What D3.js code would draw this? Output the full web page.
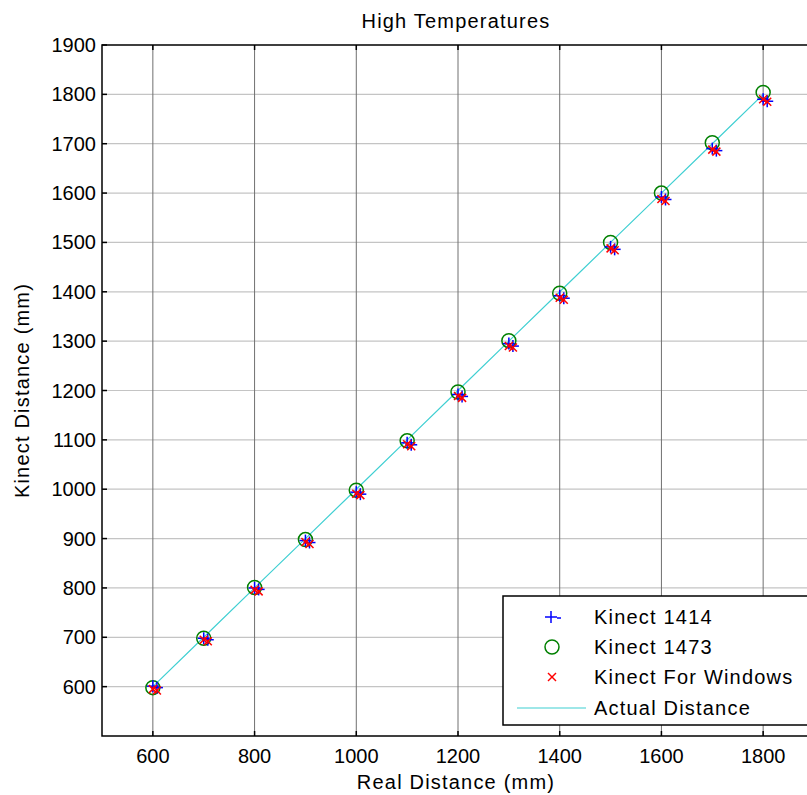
<!DOCTYPE html>
<html>
<head>
<meta charset="utf-8">
<script src="https://cdn.jsdelivr.net/npm/d3@7"></script>
<style>
  body { margin: 0; background: #fff; }
  text { font-family: Arial, "Liberation Sans", sans-serif; }
  .word { letter-spacing: 1.2px; }
</style>
</head>
<body>
<div id="vis"></div>
<script>
// Real distances (mm)
const distances = [600, 700, 800, 900, 1000, 1100, 1200, 1300, 1400, 1500, 1600, 1700, 1800];
// Kinect 1414 readings (two per distance)
const k1414a = [601, 698, 800, 896, 994, 1094, 1192, 1295, 1392, 1491, 1592, 1690, 1790];
const k1414b = [598, 695, 797, 892, 990, 1090, 1188, 1290, 1387, 1486, 1587, 1686, 1786];
// Kinect 1473 readings
const k1473 = [598, 698, 801, 898, 998, 1098, 1197, 1301, 1397, 1500, 1600, 1702, 1804];
// Kinect For Windows readings (two per distance)
const kfwA = [595, 695, 796, 893, 991, 1091, 1189, 1290, 1388, 1488, 1588, 1688, 1790];
const kfwB = [592, 692, 793, 889, 988, 1087, 1185, 1287, 1384, 1484, 1584, 1684, 1785];
// second reading sits a few mm to the right
const jitter = [0, 8];

const xTicks = [600, 800, 1000, 1200, 1400, 1600, 1800];
const yTicks = [600, 700, 800, 900, 1000, 1100, 1200, 1300, 1400, 1500, 1600, 1700, 1800, 1900];
const legendLabels = ["Kinect 1414", "Kinect 1473", "Kinect For Windows", "Actual Distance"];

const W = 807, H = 795;
const svg = d3.select("#vis").append("svg")
  .attr("width", W)
  .attr("height", H);

const pL = 102, pR = 814, pT = 45, pB = 736;

const x = d3.scaleLinear().domain([500, 1900]).range([pL, pR]);
const y = d3.scaleLinear().domain([500, 1900]).range([pB, pT]);

// grid
svg.append("g").selectAll("line")
  .data(yTicks.filter(d => d < 1900))
  .enter().append("line")
  .attr("x1", pL).attr("x2", pR)
  .attr("y1", d => y(d)).attr("y2", d => y(d))
  .attr("stroke", "#c4c4c4").attr("stroke-width", 1.2);

svg.append("g").selectAll("line")
  .data(xTicks)
  .enter().append("line")
  .attr("x1", d => x(d)).attr("x2", d => x(d))
  .attr("y1", pT).attr("y2", pB)
  .attr("stroke", "#707070").attr("stroke-width", 1);

// actual distance line
svg.append("path")
  .datum(distances)
  .attr("fill", "none")
  .attr("stroke", "#3fcfd2")
  .attr("stroke-width", 1.2)
  .attr("d", d3.line().x(d => x(d)).y(d => y(d)));

// Kinect 1473 circles
svg.append("g").selectAll("circle")
  .data(distances)
  .enter().append("circle")
  .attr("cx", d => x(d))
  .attr("cy", (d, i) => y(k1473[i]))
  .attr("r", 7)
  .attr("fill", "none")
  .attr("stroke", "#008000")
  .attr("stroke-width", 1.5);

function plus(g, cx, cy, s, color) {
  g.append("line").attr("x1", cx - s).attr("x2", cx + s).attr("y1", cy).attr("y2", cy)
    .attr("stroke", color).attr("stroke-width", 1.5);
  g.append("line").attr("x1", cx).attr("x2", cx).attr("y1", cy - s).attr("y2", cy + s)
    .attr("stroke", color).attr("stroke-width", 1.5);
}
function cross(g, cx, cy, s, color) {
  g.append("line").attr("x1", cx - s).attr("x2", cx + s).attr("y1", cy - s).attr("y2", cy + s)
    .attr("stroke", color).attr("stroke-width", 1.5);
  g.append("line").attr("x1", cx - s).attr("x2", cx + s).attr("y1", cy + s).attr("y2", cy - s)
    .attr("stroke", color).attr("stroke-width", 1.5);
}

const marks = svg.append("g");
distances.forEach((d, i) => {
  plus(marks, x(d + jitter[0]), y(k1414a[i]), 6, "#0000ff");
  plus(marks, x(d + jitter[1]), y(k1414b[i]), 6, "#0000ff");
  cross(marks, x(d + jitter[0]), y(kfwA[i]), 4, "#ff0000");
  cross(marks, x(d + jitter[1]), y(kfwB[i]), 4, "#ff0000");
});

// axes box
svg.append("rect")
  .attr("x", pL).attr("y", pT)
  .attr("width", pR - pL).attr("height", pB - pT)
  .attr("fill", "none").attr("stroke", "#000").attr("stroke-width", 1.5);

// ticks inside
svg.append("g").selectAll("line")
  .data(yTicks)
  .enter().append("line")
  .attr("x1", pL).attr("x2", pL + 5)
  .attr("y1", d => y(d)).attr("y2", d => y(d))
  .attr("stroke", "#000").attr("stroke-width", 1.5);
svg.append("g").selectAll("line")
  .data(xTicks)
  .enter().append("line")
  .attr("x1", d => x(d)).attr("x2", d => x(d))
  .attr("y1", pB).attr("y2", pB - 5)
  .attr("stroke", "#000").attr("stroke-width", 1.5);
svg.append("g").selectAll("line")
  .data(xTicks)
  .enter().append("line")
  .attr("x1", d => x(d)).attr("x2", d => x(d))
  .attr("y1", pT).attr("y2", pT + 5)
  .attr("stroke", "#000").attr("stroke-width", 1.5);

// tick labels
svg.append("g").selectAll("text")
  .data(yTicks)
  .enter().append("text")
  .attr("x", pL - 6)
  .attr("y", d => y(d))
  .attr("dy", "0.35em")
  .attr("text-anchor", "end")
  .attr("font-size", 20)
  .text(d => d);
svg.append("g").selectAll("text")
  .data(xTicks)
  .enter().append("text")
  .attr("x", d => x(d))
  .attr("y", 763)
  .attr("text-anchor", "middle")
  .attr("font-size", 20)
  .text(d => d);

// titles
svg.append("text")
  .attr("class", "word")
  .attr("x", 456).attr("y", 28)
  .attr("text-anchor", "middle")
  .attr("font-size", 20)
  .text("High Temperatures");
svg.append("text")
  .attr("class", "word")
  .attr("x", 456).attr("y", 789)
  .attr("text-anchor", "middle")
  .attr("font-size", 20)
  .text("Real Distance (mm)");
svg.append("text")
  .attr("class", "word")
  .attr("transform", "translate(29," + ((pT + pB) / 2) + ") rotate(-90)")
  .attr("text-anchor", "middle")
  .attr("font-size", 20)
  .text("Kinect Distance (mm)");

// legend
const lg = svg.append("g");
lg.append("rect")
  .attr("x", 503).attr("y", 596)
  .attr("width", 320).attr("height", 129)
  .attr("fill", "#fff").attr("stroke", "#000").attr("stroke-width", 1.5);
const rowY = [617, 647, 677, 708];
plus(lg, 551, rowY[0], 6, "#0000ff");
lg.append("line").attr("x1", 557).attr("x2", 561).attr("y1", rowY[0] + 1).attr("y2", rowY[0] + 1)
  .attr("stroke", "#0000ff").attr("stroke-width", 1.5);
lg.append("circle").attr("cx", 552).attr("cy", rowY[1]).attr("r", 7)
  .attr("fill", "none").attr("stroke", "#008000").attr("stroke-width", 1.5);
cross(lg, 552, rowY[2], 4, "#ff0000");
lg.append("line").attr("x1", 517).attr("x2", 586).attr("y1", rowY[3]).attr("y2", rowY[3])
  .attr("stroke", "#3fcfd2").attr("stroke-width", 1.2);
lg.selectAll("text.leg")
  .data(legendLabels)
  .enter().append("text")
  .attr("class", "leg word")
  .attr("x", 594)
  .attr("y", (d, i) => rowY[i])
  .attr("dy", "0.35em")
  .attr("font-size", 20)
  .text(d => d);
</script>
</body>
</html>
